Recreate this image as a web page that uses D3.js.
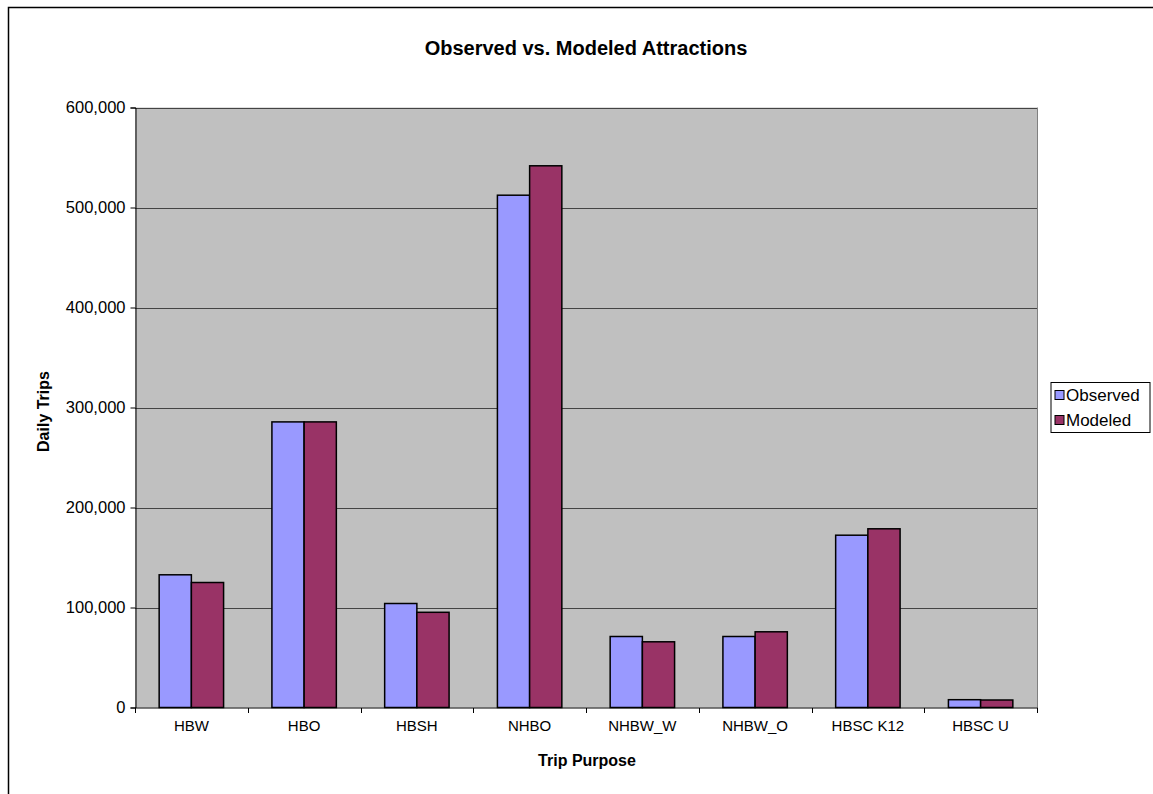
<!DOCTYPE html>
<html>
<head>
<meta charset="utf-8">
<script src="https://cdn.jsdelivr.net/npm/d3@7"></script>
<style>
  html, body { margin: 0; padding: 0; background: #fff; }
  svg { display: block; font-family: "Liberation Sans", Arial, sans-serif; }
</style>
</head>
<body>
<svg id="chart" width="1153" height="794"></svg>
<script>
// Trip purposes and daily attraction totals
const categories = ["HBW", "HBO", "HBSH", "NHBO", "NHBW_W", "NHBW_O", "HBSC K12", "HBSC U"];
const observed = [132700, 285600, 104000, 512300, 71000, 71000, 172300, 7800];
const modeled  = [125000, 285600, 95200, 541700, 65700, 75700, 178700, 7500];
const seriesNames = ["Observed", "Modeled"];
const seriesColors = ["#9999FF", "#993366"];
const yTicks = [0, 100000, 200000, 300000, 400000, 500000, 600000];

const svg = d3.select("#chart");

// outer chart frame
svg.append("rect")
  .attr("x", 8.5).attr("y", 7.5)
  .attr("width", 1160).attr("height", 800)
  .attr("fill", "#fff").attr("stroke", "#000").attr("stroke-width", 1.5);

const plot = { left: 135, top: 107.5, right: 1037, bottom: 707.5 };

const x = d3.scaleBand().domain(categories).range([plot.left, plot.right]);
const y = d3.scaleLinear().domain([0, 600000]).range([plot.bottom, plot.top]);

// plot area background
svg.append("rect")
  .attr("x", plot.left).attr("y", plot.top)
  .attr("width", plot.right - plot.left).attr("height", plot.bottom - plot.top)
  .attr("fill", "#C0C0C0");

// horizontal gridlines
svg.append("g").selectAll("line")
  .data(yTicks.filter(d => d > 0))
  .join("line")
  .attr("x1", plot.left).attr("x2", plot.right)
  .attr("y1", d => Math.round(y(d)) + 0.5).attr("y2", d => Math.round(y(d)) + 0.5)
  .attr("stroke", "#444").attr("stroke-width", 1);

// plot area right edge
svg.append("line")
  .attr("x1", plot.right + 0.5).attr("x2", plot.right + 0.5)
  .attr("y1", plot.top).attr("y2", plot.bottom)
  .attr("stroke", "#808080");

// bars
const gapRatio = 1.5;
const barW = x.bandwidth() / (2 + gapRatio);
const rows = categories.map((c, i) => ({ c, vals: [observed[i], modeled[i]] }));
const groups = svg.append("g").selectAll("g")
  .data(rows).join("g")
  .attr("transform", d => `translate(${x(d.c) + barW * gapRatio / 2},0)`);
groups.selectAll("rect")
  .data(d => d.vals.map((v, k) => ({ v, k })))
  .join("rect")
  .attr("x", d => d.k * barW)
  .attr("y", d => y(d.v))
  .attr("width", barW)
  .attr("height", d => y(0) - y(d.v))
  .attr("fill", d => seriesColors[d.k])
  .attr("stroke", "#000").attr("stroke-width", 1.5);

// y axis
const yAxis = d3.axisLeft(y).tickValues(yTicks)
  .tickFormat(d3.format(",")).tickSize(5).tickPadding(5);
const gy = svg.append("g")
  .attr("transform", `translate(${plot.left + 0.5},0)`)
  .call(yAxis);
gy.select(".domain").attr("stroke", "#000");
gy.selectAll(".tick line").attr("stroke", "#000");
gy.selectAll(".tick text").attr("font-size", 16.5).attr("fill", "#000")
  .attr("font-family", "Liberation Sans, Arial, sans-serif");

// x axis with category dividers
const gx = svg.append("g").attr("transform", `translate(0,${plot.bottom + 0.5})`);
gx.append("line")
  .attr("x1", plot.left).attr("x2", plot.right + 1)
  .attr("stroke", "#000");
const boundaries = categories.map(c => x(c)).concat([plot.right]);
gx.selectAll("line.div")
  .data(boundaries).join("line").attr("class", "div")
  .attr("x1", d => Math.round(d) + 0.5).attr("x2", d => Math.round(d) + 0.5)
  .attr("y1", 0).attr("y2", 5)
  .attr("stroke", "#000");
gx.selectAll("text")
  .data(categories).join("text")
  .attr("x", d => x(d) + x.bandwidth() / 2)
  .attr("y", 23)
  .attr("text-anchor", "middle")
  .attr("font-size", 15)
  .text(d => d);

// titles
svg.append("text")
  .attr("x", 586).attr("y", 55)
  .attr("text-anchor", "middle")
  .attr("font-size", 20).attr("font-weight", "bold")
  .text("Observed vs. Modeled Attractions");
svg.append("text")
  .attr("x", 587).attr("y", 766)
  .attr("text-anchor", "middle")
  .attr("font-size", 16).attr("font-weight", "bold")
  .text("Trip Purpose");
svg.append("text")
  .attr("transform", `translate(49,${(plot.top + plot.bottom) / 2 + 4}) rotate(-90)`)
  .attr("text-anchor", "middle")
  .attr("font-size", 16).attr("font-weight", "bold")
  .text("Daily Trips");

// legend
const lg = svg.append("g").attr("transform", "translate(1051,382.5)");
lg.append("rect")
  .attr("width", 99).attr("height", 50)
  .attr("fill", "#fff").attr("stroke", "#000");
const items = lg.selectAll("g.item")
  .data(seriesNames).join("g").attr("class", "item")
  .attr("transform", (d, i) => `translate(4,${8 + i * 25})`);
items.append("rect")
  .attr("width", 9).attr("height", 9)
  .attr("fill", (d, i) => seriesColors[i])
  .attr("stroke", "#000");
items.append("text")
  .attr("x", 11).attr("y", 10.5)
  .attr("font-size", 17)
  .text(d => d);
</script>
</body>
</html>
